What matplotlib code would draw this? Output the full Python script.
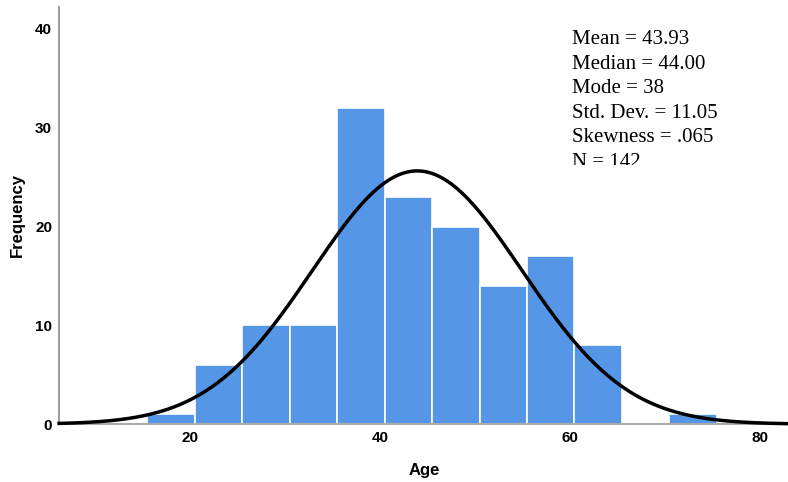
import matplotlib.pyplot as plt
import numpy as np
from matplotlib.transforms import Bbox

# histogram data (5-year bins, integer ages -> half-unit edges)
bin_edges = [15.5, 20.5, 25.5, 30.5, 35.5, 40.5, 45.5, 50.5, 55.5, 60.5, 65.5, 70.5, 75.5]
counts = [1, 6, 10, 10, 32, 23, 20, 14, 17, 8, 0, 1]
mean, sd, n = 43.93, 11.05, 142
stats_lines = ["Mean = 43.93", "Median = 44.00", "Mode = 38",
               "Std. Dev. = 11.05", "Skewness = .065", "N = 142"]

fig = plt.figure(figsize=(7.88, 4.82), dpi=100)
ax = fig.add_axes([0.075, 0.12, 0.925, 0.865])

lefts = np.array(bin_edges[:-1])
widths = np.diff(bin_edges)
ax.bar(lefts, counts, width=widths, align='edge', color='#5596e6',
       edgecolor='white', linewidth=1.2, zorder=2)

# normal curve scaled to counts
x = np.linspace(6.2, 83, 400)
y = n * 5 / (sd * np.sqrt(2 * np.pi)) * np.exp(-0.5 * ((x - mean) / sd) ** 2)
ax.plot(x, y, color='black', linewidth=2.5, zorder=3, clip_on=False)

ax.set_xlim(6.2, 83)
ax.set_ylim(0, 42.2)
ax.set_xticks([20, 40, 60, 80])
ax.set_yticks([0, 10, 20, 30, 40])
ax.tick_params(length=0, labelsize=11, pad=5)
for lbl in ax.get_xticklabels() + ax.get_yticklabels():
    lbl.set_fontweight('bold')
    lbl.set_family('Liberation Sans')
fig.text(424 / 788, 1 - 470 / 482, 'Age', fontsize=12, fontweight='bold',
         family='Liberation Sans', ha='center', va='center')
fig.text(17 / 788, 1 - 215 / 482, 'Frequency', fontsize=12, fontweight='bold',
         family='Liberation Sans', ha='center', va='center', rotation=90)

for side in ['top', 'right']:
    ax.spines[side].set_visible(False)
ax.spines['left'].set_color('#888888')
ax.spines['bottom'].set_color('#aaaaaa')
ax.spines['left'].set_linewidth(1.2)
ax.spines['bottom'].set_linewidth(1.5)

# stats box text, clipped at the bottom like the original
clip = Bbox.from_extents(560, 482 - 165, 788, 482)
y0 = 1 - 40 / 482
for i, s in enumerate(stats_lines):
    t = fig.text(0.726, y0 - i * 0.0508, s, fontsize=15, family='Liberation Serif',
                 va='center', ha='left')
    t.set_clip_box(clip)
    t.set_clip_on(True)

fig.savefig('out.png', dpi=100)
